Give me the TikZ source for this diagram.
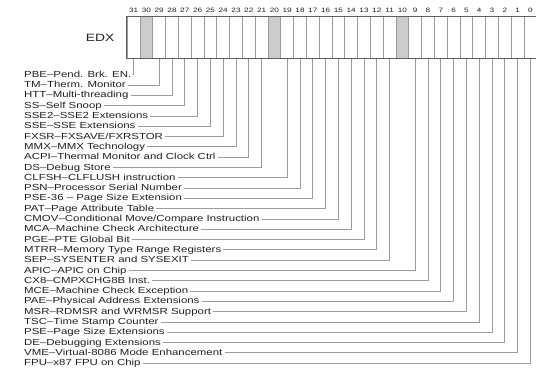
\documentclass[tikz,border=0pt]{standalone}
\usepackage{fontspec}
\setmainfont{Liberation Sans}[FakeStretch=1.3]
\usetikzlibrary{positioning}
\definecolor{resv}{HTML}{CCCCCC}
\definecolor{framec}{HTML}{606060}
\definecolor{cellc}{HTML}{9A9A9A}
\definecolor{wirec}{HTML}{9C9C9C}
\definecolor{inkc}{HTML}{202020}

\begin{document}
\begin{tikzpicture}[x=1pt, y=-1pt]
    \tikzstyle{cell} = [rectangle, draw=cellc, line width=0.8pt, minimum width=12.8pt, minimum height=41.6pt, inner sep=0pt]
    \tikzstyle{bitno} = [font=\fontsize{6.3}{6.3}\selectfont, text=inkc, inner sep=0pt]
    \tikzstyle{lbl} = [font=\fontsize{8.8}{10}\selectfont, text=inkc, inner ysep=0pt, inner xsep=2pt, text height=7pt, text depth=1.9pt]
    \tikzstyle{wire} = [draw=wirec, line width=0.8pt]

    \useasboundingbox (0,0) rectangle (536,371);

    % register cells, bit 31 on the left
    \foreach \i in {0,...,31} {
        \node[cell] (b\i) at ({133.6+(31-\i)*12.8}, 37.5) {};
        \node[bitno, above=4pt of b\i] {\i};
    }
    \foreach \r in {30,20,10}
        \node[cell, fill=resv] at (b\r) {};
    \draw[framec, line width=0.9pt] (b31.north west) rectangle (b0.south east);
    \node[font=\fontsize{10.6}{10.6}\selectfont, text=inkc, left=9pt of b31] (edx) {EDX};

    % feature flags
    \node[lbl, anchor=west] (pbe) at (22, 74.8) {PBE--Pend. Brk. EN.};
    \node[lbl, below=10.3pt of pbe.west, anchor=west] (tm) {TM--Therm. Monitor};
    \node[lbl, below=10.3pt of tm.west, anchor=west] (htt) {HTT--Multi-threading};
    \node[lbl, below=10.3pt of htt.west, anchor=west] (ss) {SS--Self Snoop};
    \node[lbl, below=10.3pt of ss.west, anchor=west] (sse2) {SSE2--SSE2 Extensions};
    \node[lbl, below=10.3pt of sse2.west, anchor=west] (sse) {SSE--SSE Extensions};
    \node[lbl, below=10.3pt of sse.west, anchor=west] (fxsr) {FXSR--FXSAVE/FXRSTOR};
    \node[lbl, below=10.3pt of fxsr.west, anchor=west] (mmx) {MMX--MMX Technology};
    \node[lbl, below=10.3pt of mmx.west, anchor=west] (acpi) {ACPI--Thermal Monitor and Clock Ctrl};
    \node[lbl, below=10.3pt of acpi.west, anchor=west] (ds) {DS--Debug Store};
    \node[lbl, below=10.3pt of ds.west, anchor=west] (clfsh) {CLFSH--CLFLUSH instruction};
    \node[lbl, below=10.3pt of clfsh.west, anchor=west] (psn) {PSN--Processor Serial Number};
    \node[lbl, below=10.3pt of psn.west, anchor=west] (pse36) {PSE-36 -- Page Size Extension};
    \node[lbl, below=10.3pt of pse36.west, anchor=west] (pat) {PAT--Page Attribute Table};
    \node[lbl, below=10.3pt of pat.west, anchor=west] (cmov) {CMOV--Conditional Move/Compare Instruction};
    \node[lbl, below=10.3pt of cmov.west, anchor=west] (mca) {MCA--Machine Check Architecture};
    \node[lbl, below=10.3pt of mca.west, anchor=west] (pge) {PGE--PTE Global Bit};
    \node[lbl, below=10.3pt of pge.west, anchor=west] (mtrr) {MTRR--Memory Type Range Registers};
    \node[lbl, below=10.3pt of mtrr.west, anchor=west] (sep) {SEP--SYSENTER and SYSEXIT};
    \node[lbl, below=10.3pt of sep.west, anchor=west] (apic) {APIC--APIC on Chip};
    \node[lbl, below=10.3pt of apic.west, anchor=west] (cx8) {CX8--CMPXCHG8B Inst.};
    \node[lbl, below=10.3pt of cx8.west, anchor=west] (mce) {MCE--Machine Check Exception};
    \node[lbl, below=10.3pt of mce.west, anchor=west] (pae) {PAE--Physical Address Extensions};
    \node[lbl, below=10.3pt of pae.west, anchor=west] (msr) {MSR--RDMSR and WRMSR Support};
    \node[lbl, below=10.3pt of msr.west, anchor=west] (tsc) {TSC--Time Stamp Counter};
    \node[lbl, below=10.3pt of tsc.west, anchor=west] (pse) {PSE--Page Size Extensions};
    \node[lbl, below=10.3pt of pse.west, anchor=west] (de) {DE--Debugging Extensions};
    \node[lbl, below=10.3pt of de.west, anchor=west] (vme) {VME--Virtual-8086 Mode Enhancement};
    \node[lbl, below=10.3pt of vme.west, anchor=west] (fpu) {FPU--x87 FPU on Chip};

    % lines up to the bits
    \draw[wire] (pbe.east) -| (b31.south);
    \draw[wire] (tm.east) -| (b29.south);
    \draw[wire] (htt.east) -| (b28.south);
    \draw[wire] (ss.east) -| (b27.south);
    \draw[wire] (sse2.east) -| (b26.south);
    \draw[wire] (sse.east) -| (b25.south);
    \draw[wire] (fxsr.east) -| (b24.south);
    \draw[wire] (mmx.east) -| (b23.south);
    \draw[wire] (acpi.east) -| (b22.south);
    \draw[wire] (ds.east) -| (b21.south);
    \draw[wire] (clfsh.east) -| (b19.south);
    \draw[wire] (psn.east) -| (b18.south);
    \draw[wire] (pse36.east) -| (b17.south);
    \draw[wire] (pat.east) -| (b16.south);
    \draw[wire] (cmov.east) -| (b15.south);
    \draw[wire] (mca.east) -| (b14.south);
    \draw[wire] (pge.east) -| (b13.south);
    \draw[wire] (mtrr.east) -| (b12.south);
    \draw[wire] (sep.east) -| (b11.south);
    \draw[wire] (apic.east) -| (b9.south);
    \draw[wire] (cx8.east) -| (b8.south);
    \draw[wire] (mce.east) -| (b7.south);
    \draw[wire] (pae.east) -| (b6.south);
    \draw[wire] (msr.east) -| (b5.south);
    \draw[wire] (tsc.east) -| (b4.south);
    \draw[wire] (pse.east) -| (b3.south);
    \draw[wire] (de.east) -| (b2.south);
    \draw[wire] (vme.east) -| (b1.south);
    \draw[wire] (fpu.east) -| (b0.south);
\end{tikzpicture}
\end{document}
